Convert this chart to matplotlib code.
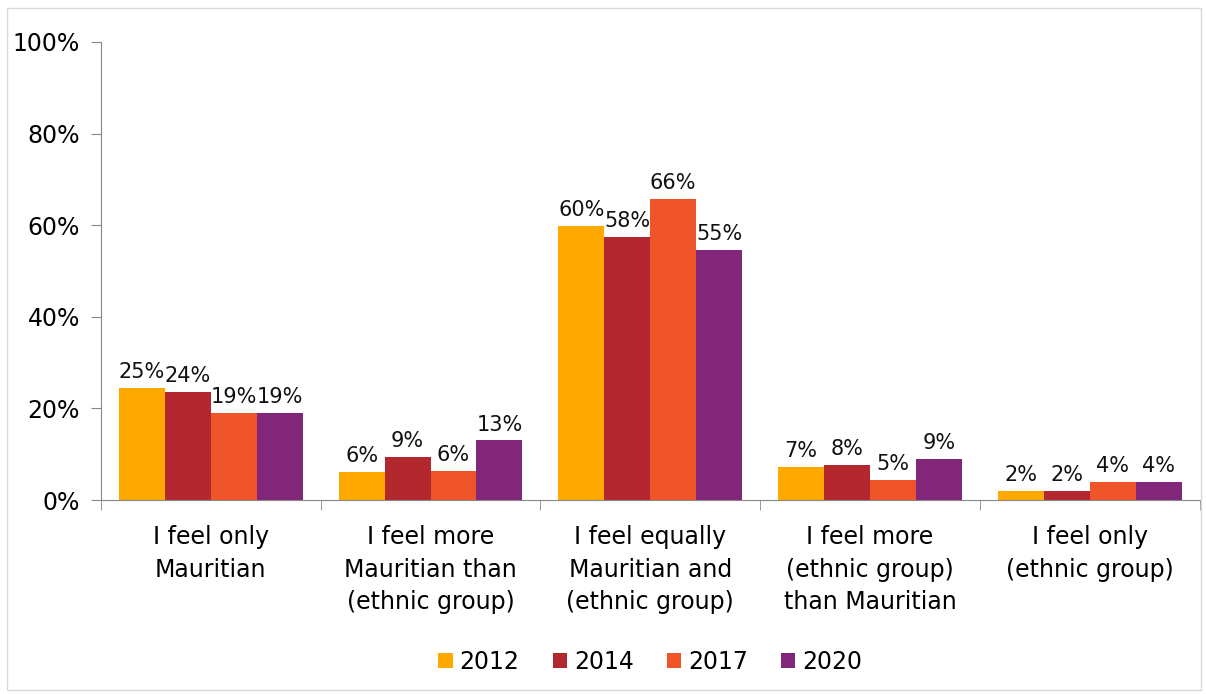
import matplotlib
matplotlib.use("Agg")
import matplotlib.pyplot as plt
import matplotlib.patches as mpatches
import numpy as np

categories = [
    "I feel only\nMauritian",
    "I feel more\nMauritian than\n(ethnic group)",
    "I feel equally\nMauritian and\n(ethnic group)",
    "I feel more\n(ethnic group)\nthan Mauritian",
    "I feel only\n(ethnic group)",
]
years = ["2012", "2014", "2017", "2020"]
values = {
    "2012": [24.5, 6.1, 59.8, 7.2, 2.0],
    "2014": [23.6, 9.4, 57.4, 7.6, 2.0],
    "2017": [19.1, 6.3, 65.8, 4.4, 3.9],
    "2020": [19.1, 13.0, 54.6, 9.0, 3.9],
}
labels = {
    "2012": ["25%", "6%", "60%", "7%", "2%"],
    "2014": ["24%", "9%", "58%", "8%", "2%"],
    "2017": ["19%", "6%", "66%", "5%", "4%"],
    "2020": ["19%", "13%", "55%", "9%", "4%"],
}
colors = ["#FFA800", "#B2282E", "#F0552A", "#82267A"]

plt.rcParams["font.family"] = ["DejaVu Sans"]
fs = 17

fig = plt.figure(figsize=(12.06, 6.94), dpi=100)
ax = fig.add_axes([0.0837, 0.2795, 0.911, 0.66])

# light outer frame
fig.patches.append(mpatches.Rectangle((0.006, 0.006), 0.99, 0.983, transform=fig.transFigure,
                                      fill=False, edgecolor="#d9d9d9", linewidth=1))

x = np.arange(len(categories))
w = 0.209
for i, yr in enumerate(years):
    pos = x + (i - 1.5) * w
    ax.bar(pos, values[yr], width=w, color=colors[i], label=yr, edgecolor="none")
    for p, v, t in zip(pos, values[yr], labels[yr]):
        ax.text(p, v + 1.3, t, ha="center", va="bottom", fontsize=15, color="#111111")

ax.set_xlim(-0.5, len(categories) - 0.5)
ax.set_ylim(0, 100)
ax.set_yticks(range(0, 101, 20))
ax.set_yticklabels([f"{v}%" for v in range(0, 101, 20)], fontsize=fs)
ax.set_xticks(x)
ax.set_xticklabels(categories, fontsize=fs, linespacing=1.45)
ax.tick_params(axis="x", length=0, pad=18)
ax.set_xticks(np.arange(-0.5, len(categories)), minor=True)
ax.tick_params(axis="x", which="minor", length=7, color="#888888")
ax.tick_params(axis="y", length=7, color="#888888", pad=8)

for s in ["top", "right"]:
    ax.spines[s].set_visible(False)
ax.spines["left"].set_color("#888888")
ax.spines["bottom"].set_color("#888888")

ax.legend(loc="center", bbox_to_anchor=(0.5, -0.354), ncol=4, frameon=False,
          fontsize=fs, handlelength=0.6, handleheight=0.6, handletextpad=0.3,
          columnspacing=1.4)

fig.savefig("out.png", dpi=100)
plt.close()
